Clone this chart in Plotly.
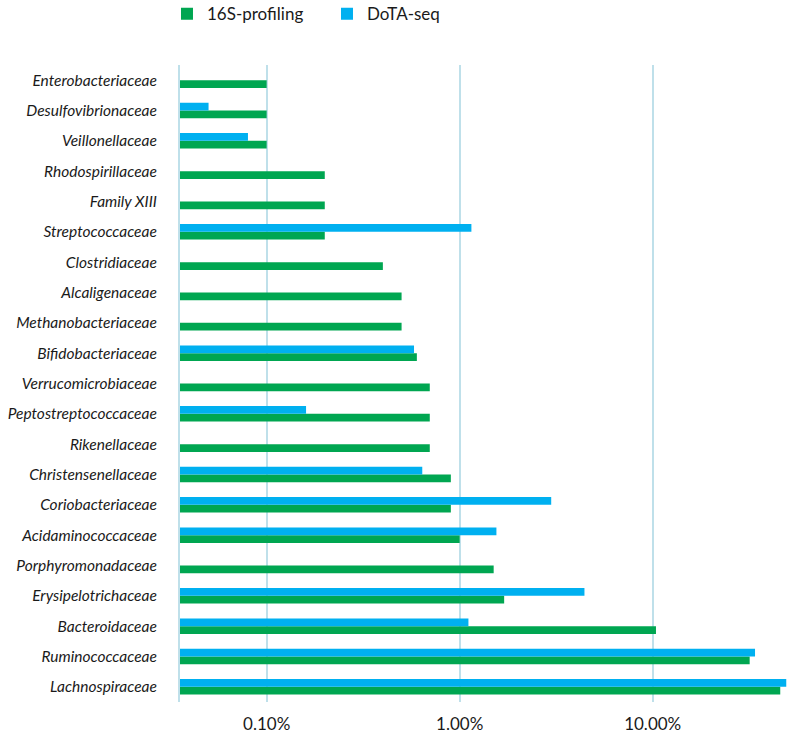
import plotly.graph_objects as go

families = [
    "Enterobacteriaceae", "Desulfovibrionaceae", "Veillonellaceae", "Rhodospirillaceae",
    "Family XIII", "Streptococcaceae", "Clostridiaceae", "Alcaligenaceae",
    "Methanobacteriaceae", "Bifidobacteriaceae", "Verrucomicrobiaceae",
    "Peptostreptococcaceae", "Rikenellaceae", "Christensenellaceae", "Coriobacteriaceae",
    "Acidaminococcaceae", "Porphyromonadaceae", "Erysipelotrichaceae", "Bacteroidaceae",
    "Ruminococcaceae", "Lachnospiraceae",
]

profiling_16s = [
    0.0010, 0.0010, 0.0010, 0.0020, 0.0020, 0.0020, 0.0040, 0.0050, 0.0050, 0.0060,
    0.0070, 0.0070, 0.0070, 0.0090, 0.0090, 0.0100, 0.0150, 0.0170, 0.1040, 0.3180, 0.4580,
]

dota_seq = [
    None, 0.0005, 0.0008, None, None, 0.0115, None, None, None, 0.0058,
    None, 0.0016, None, 0.0064, 0.0298, 0.0155, None, 0.0443, 0.0111, 0.3390, 0.4920,
]

tick_values = [0.001, 0.01, 0.1]
tick_labels = ["0.10%", "1.00%", "10.00%"]

GREEN = "#00A651"
BLUE = "#00B0F0"
GRID = "#BFE0EA"
TEXT = "#1a1a1a"

fig = go.Figure()
fig.add_trace(go.Bar(
    name="16S-profiling", y=families, x=profiling_16s, orientation="h",
    marker=dict(color=GREEN, line=dict(width=0)),
))
fig.add_trace(go.Bar(
    name="DoTA-seq", y=families, x=dota_seq, orientation="h",
    marker=dict(color=BLUE, line=dict(width=0)),
))

fig.update_layout(
    width=790, height=735,
    margin=dict(l=180, r=2, t=65, b=33, autoexpand=False),
    paper_bgcolor="white", plot_bgcolor="white",
    barmode="group", bargap=0.49, bargroupgap=0,
    font=dict(family="Lato, 'Open Sans', sans-serif", color=TEXT),
    showlegend=True,
    legend=dict(
        orientation="h", xref="paper", yref="paper",
        x=-0.0214, xanchor="left", y=1.108, yanchor="top",
        font=dict(size=17, color=TEXT, family="Lato, sans-serif"),
        itemsizing="constant", traceorder="normal", itemwidth=30,
        entrywidth=115, entrywidthmode="pixels", bgcolor="rgba(0,0,0,0)",
    ),
    xaxis=dict(
        type="log", range=[-3.449, -0.299], automargin=False,
        tickvals=tick_values, ticktext=tick_labels,
        showgrid=True, gridcolor=GRID, gridwidth=2,
        zeroline=False, showline=False, ticks="", ticklabelstandoff=10,
        tickfont=dict(size=17, color=TEXT),
    ),
    yaxis=dict(
        categoryorder="array", categoryarray=list(reversed(families)), automargin=False,
        showline=True, linecolor=GRID, linewidth=2,
        showgrid=False, ticks="", ticklabelstandoff=18,
        tickfont=dict(size=15.5, color=TEXT, style="italic"),
    ),
)

fig.write_html("out.html", config={"displayModeBar": False},
               post_script="document.body.style.margin='0';")
